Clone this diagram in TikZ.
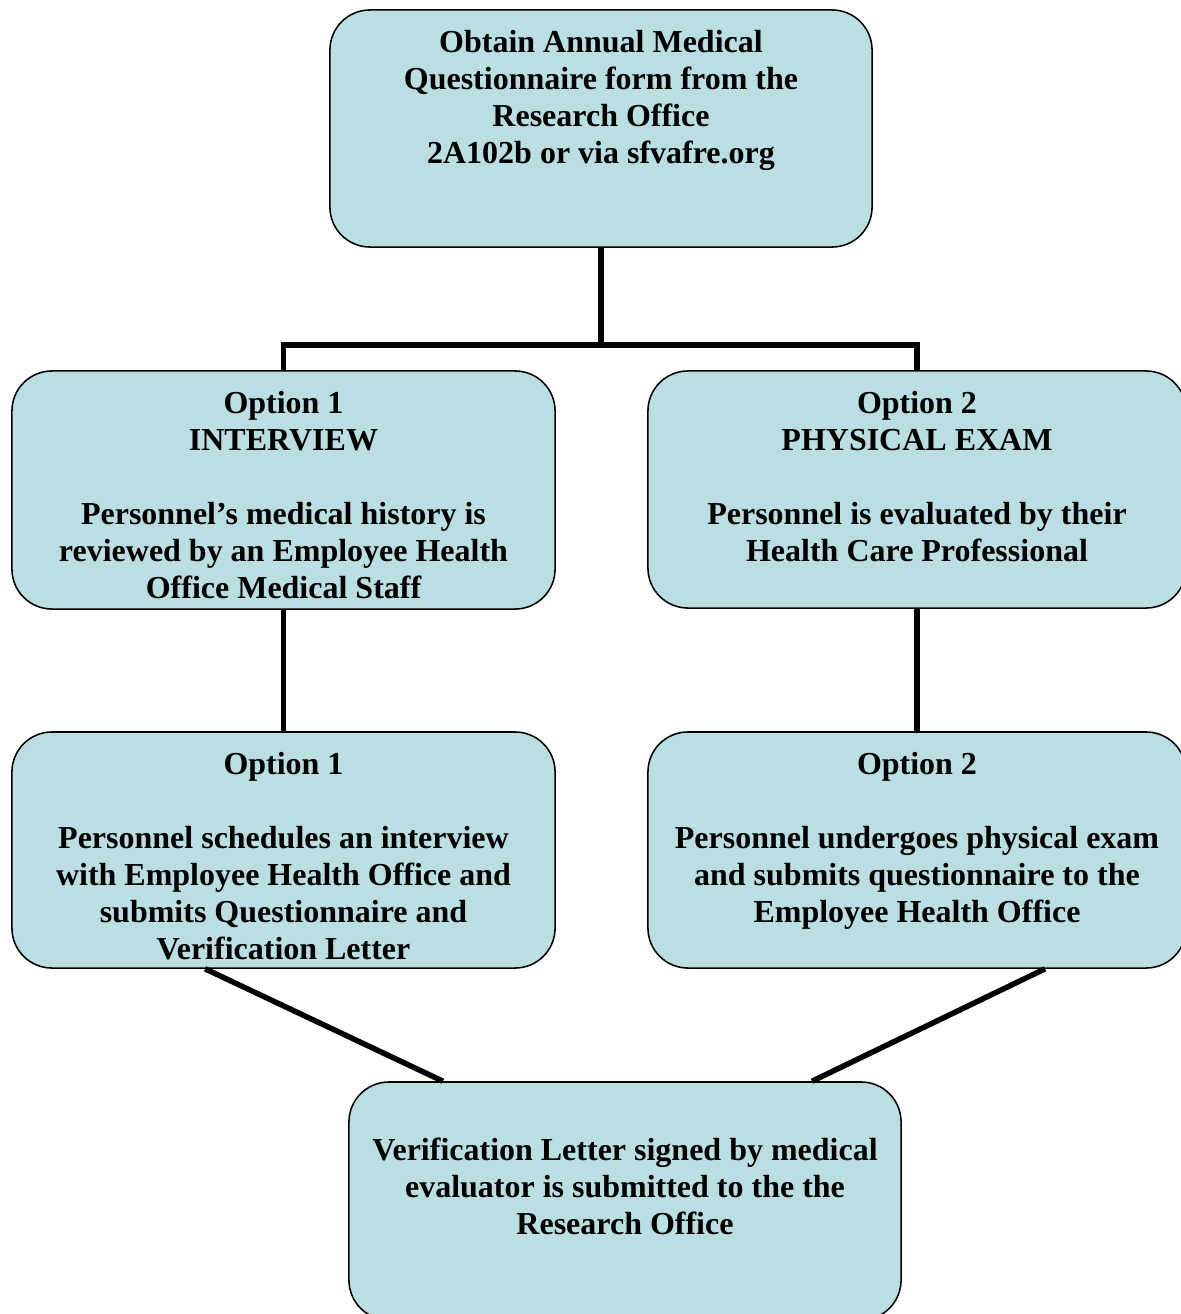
\documentclass[tikz,border=0pt]{standalone}
\usepackage{fontspec}
\setmainfont{Liberation Serif}
\usepackage{xcolor}
\usetikzlibrary{positioning}

\definecolor{boxblue}{RGB}{187,222,227}
\newcommand{\boxtext}[3]{\parbox[c][#2][t]{#1}{\centering\vspace*{0.52cm}#3}}

\begin{document}
\begin{tikzpicture}[x=0.025cm,y=-0.025cm,
        panel/.style={draw,fill=boxblue,rounded corners=1cm,line width=1.1pt,inner sep=0pt,
            font=\bfseries\fontsize{22.75}{26.3}\selectfont},
        link/.style={line width=3.9pt}]
                \useasboundingbox (0,0) rectangle (1180,1314);

                \node[panel] (form) at (601,128.5) {\boxtext{13.55cm}{5.925cm}{Obtain Annual Medical\\Questionnaire form from the\\Research Office\\2A102b or via sfvafre.org}};
                \node[panel] (interview) at (283.5,490) {\boxtext{13.575cm}{5.95cm}{Option 1\\INTERVIEW\\[\baselineskip]Personnel’s medical history is\\reviewed by an Employee Health\\Office Medical Staff}};
                \node[panel] (physical) at (917,489.5) {\boxtext{13.45cm}{5.925cm}{Option 2\\PHYSICAL EXAM\\[\baselineskip]Personnel is evaluated by their\\Health Care Professional}};
                \node[panel] (schedule) at (283.5,850) {\boxtext{13.575cm}{5.9cm}{Option 1\\[\baselineskip]Personnel schedules an interview\\with Employee Health Office and\\submits Questionnaire and\\Verification Letter}};
                \node[panel] (undergo) at (917,850) {\boxtext{13.45cm}{5.9cm}{Option 2\\[\baselineskip]Personnel undergoes physical exam\\and submits questionnaire to the\\Employee Health Office}};
                \node[panel] (letter) at (625,1201) {\boxtext{13.8cm}{5.95cm}{\rule{0pt}{15pt}\\Verification Letter signed by medical\\evaluator is submitted to the the\\Research Office}};

                \coordinate (split) at (601,345);
                \draw[link] (form.south) -- (split) -| (interview.north);
                \draw[link] (split) -| (physical.north);
                \draw[link] (interview.south) -- (schedule.north);
                \draw[link] (physical.south) -- (undergo.north);
                % the two branches join at the letter
                \draw[link] ([xshift=-1.96cm]schedule.south) -- ([xshift=-4.55cm]letter.north);
                \draw[link] ([xshift=3.2cm]undergo.south) -- ([xshift=4.675cm]letter.north);
            \end{tikzpicture}
\end{document}
